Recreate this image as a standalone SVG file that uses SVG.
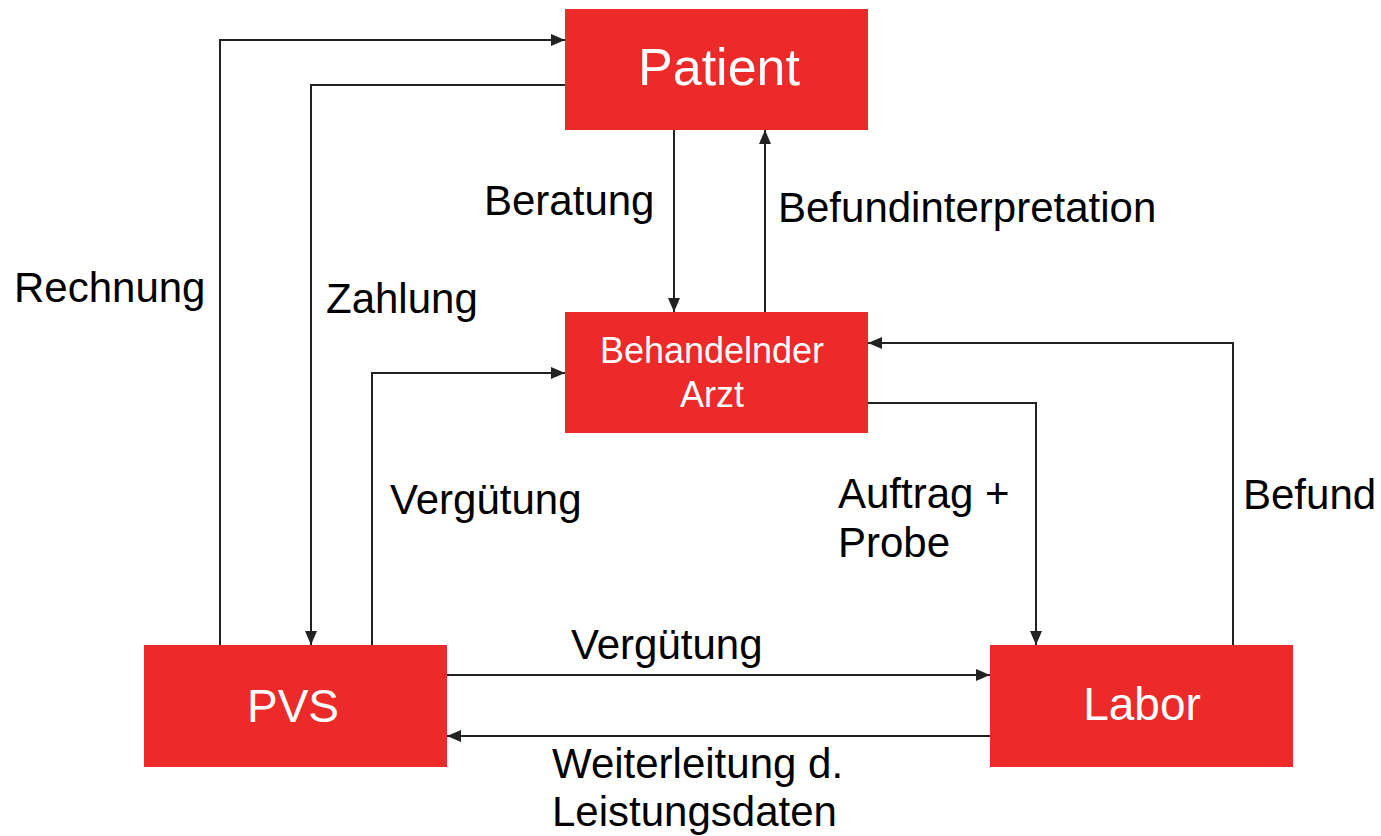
<svg xmlns="http://www.w3.org/2000/svg" width="1381" height="836" viewBox="0 0 1381 836">
<style>
.box{fill:#EC2A2A}
.nt{fill:#fff;font-family:"Liberation Sans",Arial,sans-serif;text-anchor:middle}
.lbl{fill:#000;font-family:"Liberation Sans",Arial,sans-serif;font-size:42px}
.c{fill:none;stroke:#222;stroke-width:2;marker-end:url(#ah)}
</style>
<defs>
<marker id="ah" viewBox="0 0 14 12" refX="14" refY="6" markerWidth="14" markerHeight="12" markerUnits="userSpaceOnUse" orient="auto">
<path d="M0,0 L14,6 L0,12 Z" fill="#222"/>
</marker>
</defs>
<rect width="1381" height="836" fill="#fff"/>
<g id="connectors">
<polyline class="c" points="220,645 220,40 565,40"/>
<polyline class="c" points="565,85 311,85 311,645"/>
<polyline class="c" points="674,130 674,312"/>
<polyline class="c" points="765,312 765,130"/>
<polyline class="c" points="372,645 372,373 565,373"/>
<polyline class="c" points="868,403 1036,403 1036,645"/>
<polyline class="c" points="1233,645 1233,343 868,343"/>
<polyline class="c" points="447,675 990,675"/>
<polyline class="c" points="990,736 447,736"/>
</g>
<g id="labels">
<text class="lbl" x="484" y="215">Beratung</text>
<text class="lbl" x="778" y="222">Befundinterpretation</text>
<text class="lbl" x="14" y="302">Rechnung</text>
<text class="lbl" x="326" y="313">Zahlung</text>
<text class="lbl" x="390" y="514">Vergütung</text>
<text class="lbl" x="838" y="508">Auftrag +</text>
<text class="lbl" x="838" y="557">Probe</text>
<text class="lbl" x="1243" y="509">Befund</text>
<text class="lbl" x="571" y="659">Vergütung</text>
<text class="lbl" x="552" y="778">Weiterleitung d.</text>
<text class="lbl" x="552" y="826">Leistungsdaten</text>
</g>
<g id="patient">
<rect class="box" x="565" y="9" width="303" height="121"/>
<text class="nt" x="719" y="85" font-size="52">Patient</text>
</g>
<g id="arzt">
<rect class="box" x="565" y="312" width="303" height="121"/>
<text class="nt" x="712" y="363" font-size="36">Behandelnder</text>
<text class="nt" x="712" y="407" font-size="36">Arzt</text>
</g>
<g id="pvs">
<rect class="box" x="144" y="645" width="303" height="122"/>
<text class="nt" x="293" y="722" font-size="46">PVS</text>
</g>
<g id="labor">
<rect class="box" x="990" y="645" width="303" height="122"/>
<text class="nt" x="1142" y="720" font-size="46">Labor</text>
</g>
</svg>
